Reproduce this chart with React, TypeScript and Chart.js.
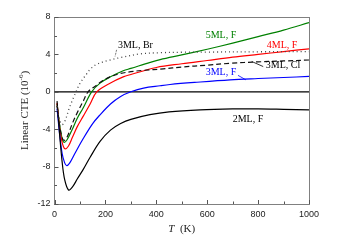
import React, { useEffect, useRef } from "react";
import { Chart, registerables } from "chart.js";
Chart.register(...registerables);

// ---- data (T in K, linear CTE in 1e-6 /K) ----
const T_2ML_F = [10, 20, 30, 40, 55, 70, 90, 113, 140, 179, 220, 260, 300, 375, 450, 572, 700, 800, 900, 1000];
const CTE_2ML_F = [-1.0, -4.5, -7.5, -9.4, -10.5, -10.2, -9.3, -8.3, -7.0, -5.3, -4.1, -3.4, -2.95, -2.45, -2.15, -1.93, -1.83, -1.82, -1.87, -1.93];

const T_3ML_F = [10, 20, 30, 40, 48, 60, 80, 113, 150, 179, 220, 260, 300, 350, 415, 454, 550, 690, 800, 900, 1000];
const CTE_3ML_F = [-1.8, -4.5, -6.6, -7.6, -7.9, -7.6, -6.6, -5.0, -3.4, -2.46, -1.3, -0.5, 0.0, 0.4, 0.65, 0.78, 1.0, 1.28, 1.42, 1.53, 1.64];

const T_4ML_F = [10, 20, 30, 41, 55, 70, 90, 113, 140, 166, 220, 270, 300, 400, 500, 600, 700, 800, 900, 1000];
const CTE_4ML_F = [-1.2, -3.8, -5.4, -6.1, -5.8, -4.9, -3.7, -2.6, -1.3, 0.0, 0.95, 1.6, 1.85, 2.6, 3.0, 3.35, 3.7, 4.0, 4.3, 4.6];

const T_5ML_F = [10, 20, 30, 38, 50, 70, 90, 113, 146, 179, 220, 270, 300, 376, 415, 500, 600, 700, 800, 900, 1000];
const CTE_5ML_F = [-1.3, -3.5, -5.0, -5.4, -5.1, -4.0, -2.8, -1.7, 0.0, 0.93, 1.6, 2.25, 2.5, 3.15, 3.45, 3.95, 4.55, 5.2, 5.9, 6.6, 7.4];

const T_3ML_Cl = [10, 20, 30, 38, 50, 70, 90, 113, 132, 160, 190, 218, 258, 300, 350, 427, 500, 600, 690, 800, 900, 1000];
const CTE_3ML_Cl = [-1.5, -3.6, -4.9, -5.2, -4.8, -3.4, -2.2, -1.0, 0.0, 0.6, 1.2, 1.6, 1.95, 2.15, 2.3, 2.45, 2.65, 2.85, 3.05, 3.2, 3.3, 3.4];

const T_3ML_Br = [10, 20, 30, 40, 60, 80, 100, 126, 140, 166, 218, 257, 336, 415, 500, 600, 800, 1000];
const CTE_3ML_Br = [-1.5, -3.0, -3.5, -3.2, -1.6, -0.3, 0.9, 1.9, 2.4, 2.95, 3.4, 3.65, 4.05, 4.18, 4.23, 4.25, 4.28, 4.3];

// axis
const X_MIN = 0, X_MAX = 1000, X_STEP = 200, X_MINOR = 100;
const Y_MIN = -12, Y_MAX = 8, Y_STEP = 4, Y_MINOR = 2;

// labels: text, anchor T, anchor CTE, colour
const LABEL_TEXT = ["5ML, F", "4ML, F", "3ML, Cl", "3ML, F", "3ML, Br", "2ML, F"];
const LABEL_T = [654, 894, 898, 654, 318, 760];
const LABEL_CTE = [6.04, 4.92, 2.78, 2.03, 4.97, -2.94];
const LABEL_COLOR = ["#008000", "#ff0000", "#000000", "#0000ff", "#000000", "#000000"];
// leader lines
const LEADER_T1 = [775, 721, 244];
const LEADER_C1 = [3.24, 1.76, 4.49];
const LEADER_T2 = [820, 752, 238];
const LEADER_C2 = [2.7, 1.28, 3.78];
const LEADER_COLOR = ["#000000", "#0000ff", "#555555"];

const pts = (t: number[], v: number[]) => t.map((x, i) => ({ x, y: v[i] }));

const decorPlugin = {
  id: "decor",
  beforeDatasetsDraw(chart: any) {
    const { ctx, chartArea, scales } = chart;
    const xs = scales.x, ys = scales.y;
    ctx.save();
    ctx.strokeStyle = "#000";
    ctx.lineWidth = 1.2;
    const y0 = ys.getPixelForValue(0);
    ctx.beginPath();
    ctx.moveTo(chartArea.left, y0);
    ctx.lineTo(chartArea.right, y0);
    ctx.stroke();
    ctx.strokeStyle = "#555";
    ctx.lineWidth = 1;
    for (let v = X_MIN; v <= X_MAX; v += X_MINOR) {
      const px = Math.round(xs.getPixelForValue(v)) + 0.5;
      const len = v % X_STEP === 0 ? 4 : 2.5;
      ctx.beginPath();
      ctx.moveTo(px, chartArea.bottom);
      ctx.lineTo(px, chartArea.bottom - len);
      ctx.stroke();
    }
    for (let v = Y_MIN; v <= Y_MAX; v += Y_MINOR) {
      const py = Math.round(ys.getPixelForValue(v)) + 0.5;
      const len = (v - Y_MIN) % Y_STEP === 0 ? 4 : 2.5;
      ctx.beginPath();
      ctx.moveTo(chartArea.left, py);
      ctx.lineTo(chartArea.left + len, py);
      ctx.stroke();
    }
    ctx.restore();
  },
  afterDatasetsDraw(chart: any) {
    const { ctx, chartArea, scales } = chart;
    const xs = scales.x, ys = scales.y;
    ctx.save();
    ctx.font = "10px 'Liberation Serif'";
    ctx.textAlign = "center";
    ctx.textBaseline = "middle";
    LABEL_TEXT.forEach((t, i) => {
      ctx.fillStyle = LABEL_COLOR[i];
      ctx.fillText(t, xs.getPixelForValue(LABEL_T[i]), ys.getPixelForValue(LABEL_CTE[i]));
    });
    LEADER_T1.forEach((t, i) => {
      ctx.strokeStyle = LEADER_COLOR[i];
      ctx.lineWidth = 0.8;
      ctx.setLineDash(i === 2 ? [2, 1] : []);
      ctx.beginPath();
      ctx.moveTo(xs.getPixelForValue(t), ys.getPixelForValue(LEADER_C1[i]));
      ctx.lineTo(xs.getPixelForValue(LEADER_T2[i]), ys.getPixelForValue(LEADER_C2[i]));
      ctx.stroke();
    });
    ctx.setLineDash([]);
    // y title
    ctx.fillStyle = "#222";
    const cy = (chartArea.top + chartArea.bottom) / 2;
    ctx.translate(chartArea.left - 29, cy);
    ctx.rotate(-Math.PI / 2);
    const f1 = "11px 'Liberation Serif'";
    const f2 = "7px 'Liberation Serif'";
    const a = "Linear CTE (10", b = "-6", c = ")";
    ctx.font = f1; const wa = ctx.measureText(a).width; const wc = ctx.measureText(c).width;
    ctx.font = f2; const wb = ctx.measureText(b).width;
    let x0 = -(wa + wb + wc) / 2;
    ctx.textAlign = "left";
    ctx.textBaseline = "middle";
    ctx.font = f1; ctx.fillText(a, x0, 0); x0 += wa;
    ctx.font = f2; ctx.fillText(b, x0, -4); x0 += wb;
    ctx.font = f1; ctx.fillText(c, x0, 0);
    ctx.setTransform(1, 0, 0, 1, 0, 0);
    // x title
    const xc = (chartArea.left + chartArea.right) / 2;
    const ty = chartArea.bottom + 25;
    const fi = "italic 11px 'Liberation Serif'";
    const fn = "11px 'Liberation Serif'";
    ctx.font = fi; const w1 = ctx.measureText("T").width;
    ctx.font = fn; const w2 = ctx.measureText("  (K)").width;
    let xx = xc - (w1 + w2) / 2;
    ctx.textAlign = "left";
    ctx.font = fi; ctx.fillText("T", xx, ty); xx += w1;
    ctx.font = fn; ctx.fillText("  (K)", xx, ty);
    ctx.restore();
  },
};

export default function App() {
  const ref = useRef<HTMLCanvasElement | null>(null);
  useEffect(() => {
    document.body.style.margin = "0";
    const mk = (label: string, t: number[], v: number[], color: string, dash: number[] = [], width = 1.2) => ({
      label,
      data: pts(t, v),
      borderColor: color,
      backgroundColor: color,
      borderWidth: width,
      borderDash: dash,
      pointRadius: 0,
      fill: false,
      tension: 0.35,
    });
    const chart = new Chart(ref.current!, {
      type: "line",
      data: {
        datasets: [
          mk("3ML, Br", T_3ML_Br, CTE_3ML_Br, "#444444", [1, 3], 1.3),
          mk("3ML, Cl", T_3ML_Cl, CTE_3ML_Cl, "#111111", [5, 3], 1.2),
          mk("2ML, F", T_2ML_F, CTE_2ML_F, "#000000"),
          mk("3ML, F", T_3ML_F, CTE_3ML_F, "#0000ff"),
          mk("4ML, F", T_4ML_F, CTE_4ML_F, "#ff0000"),
          mk("5ML, F", T_5ML_F, CTE_5ML_F, "#008000"),
        ],
      },
      options: {
        animation: false,
        responsive: true,
        maintainAspectRatio: false,
        layout: { padding: { top: 17, right: 29, left: 0, bottom: 0 } },
        plugins: { legend: { display: false }, tooltip: { enabled: false }, title: { display: false } },
        scales: {
          x: {
            type: "linear",
            min: X_MIN,
            max: X_MAX,
            ticks: { stepSize: X_STEP, padding: 5, color: "#222", font: { family: "'Liberation Sans'", size: 9 }, maxRotation: 0, callback: (v: any) => String(v) },
            grid: { display: true, drawOnChartArea: false, drawTicks: false },
            border: { display: true, color: "#808080", width: 1 },
            afterFit: (s: any) => { s.height = 39; },
          },
          y: {
            type: "linear",
            min: Y_MIN,
            max: Y_MAX,
            ticks: { stepSize: Y_STEP, padding: 4, color: "#222", font: { family: "'Liberation Sans'", size: 9 }, callback: (v: any) => String(v) },
            grid: { display: true, drawOnChartArea: false, drawTicks: false },
            border: { display: true, color: "#808080", width: 1 },
            afterFit: (s: any) => { s.width = 54.5; },
          },
          x2: {
            type: "linear", position: "top", min: X_MIN, max: X_MAX,
            ticks: { display: false }, grid: { display: false, drawTicks: false },
            border: { display: true, color: "#808080", width: 1 },
            afterFit: (s: any) => { s.height = 0; },
          },
          y2: {
            type: "linear", position: "right", min: Y_MIN, max: Y_MAX,
            ticks: { display: false }, grid: { display: false, drawTicks: false },
            border: { display: true, color: "#808080", width: 1 },
            afterFit: (s: any) => { s.width = 0; },
          },
        },
      },
      plugins: [decorPlugin],
    });
    return () => chart.destroy();
  }, []);
  return (
    <div style={{ position: "relative", width: 338, height: 243 }}>
      <canvas ref={ref} />
    </div>
  );
}
